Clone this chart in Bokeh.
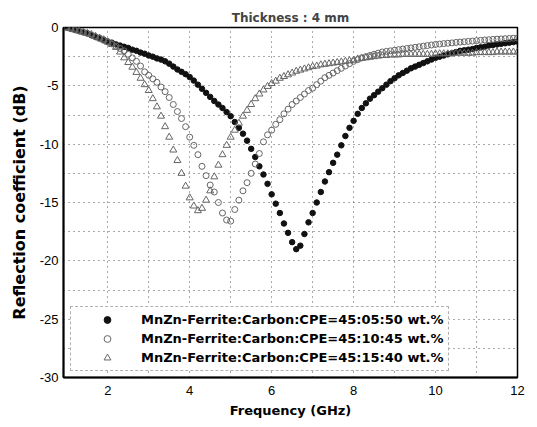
from bokeh.plotting import figure
from bokeh.models import FixedTicker, Legend, LegendItem, Range1d
from bokeh.embed import file_html
from bokeh.resources import INLINE

title_text = "Thickness : 4 mm"
x_label = "Frequency (GHz)"
y_label = "Reflection coefficient (dB)"

x_ticks = [2, 4, 6, 8, 10, 12]
y_ticks = [0, -5, -10, -15, -20, -25, -30]
x_grid = [2, 3, 4, 5, 6, 7, 8, 9, 10, 11]
y_grid = [-2.5, -5, -7.5, -10, -12.5, -15, -17.5, -20, -22.5, -25, -27.5]

labels = [
    "MnZn-Ferrite:Carbon:CPE=45:05:50 wt.%",
    "MnZn-Ferrite:Carbon:CPE=45:10:45 wt.%",
    "MnZn-Ferrite:Carbon:CPE=45:15:40 wt.%",
]

freq = [
    1.0, 1.1, 1.2, 1.3, 1.4, 1.5, 1.6, 1.7, 1.8, 1.9,
    2.0, 2.1, 2.2, 2.3, 2.4, 2.5, 2.6, 2.7, 2.8, 2.9,
    3.0, 3.1, 3.2, 3.3, 3.4, 3.5, 3.6, 3.7, 3.8, 3.9,
    4.0, 4.1, 4.2, 4.3, 4.4, 4.5, 4.6, 4.7, 4.8, 4.9,
    5.0, 5.1, 5.2, 5.3, 5.4, 5.5, 5.6, 5.7, 5.8, 5.9,
    6.0, 6.1, 6.2, 6.3, 6.4, 6.5, 6.6, 6.7, 6.8, 6.9,
    7.0, 7.1, 7.2, 7.3, 7.4, 7.5, 7.6, 7.7, 7.8, 7.9,
    8.0, 8.1, 8.2, 8.3, 8.4, 8.5, 8.6, 8.7, 8.8, 8.9,
    9.0, 9.1, 9.2, 9.3, 9.4, 9.5, 9.6, 9.7, 9.8, 9.9,
    10.0, 10.1, 10.2, 10.3, 10.4, 10.5, 10.6, 10.7, 10.8, 10.9,
    11.0, 11.1, 11.2, 11.3, 11.4, 11.5, 11.6, 11.7, 11.8, 11.9,
    12.0,
]

rl_05 = [
    0.0, -0.1, -0.2, -0.3, -0.4, -0.5, -0.65, -0.8, -0.9, -1.05,
    -1.2, -1.3, -1.45, -1.55, -1.65, -1.75, -1.9, -2.0, -2.15, -2.25,
    -2.4, -2.5, -2.65, -2.75, -2.9, -3.1, -3.35, -3.6, -3.8, -4.0,
    -4.25, -4.55, -4.9, -5.25, -5.6, -5.95, -6.3, -6.6, -6.9, -7.25,
    -7.6, -8.1, -8.6, -9.1, -9.7, -10.4, -11.1, -11.9, -12.6, -13.4,
    -14.3, -15.1, -15.9, -16.8, -17.6, -18.4, -19.0, -18.7, -17.7, -16.7,
    -15.9, -15.0, -14.1, -13.2, -12.4, -11.6, -10.9, -10.1, -9.3, -8.6,
    -8.0, -7.4, -6.9, -6.5, -6.1, -5.8, -5.5, -5.2, -4.9, -4.6,
    -4.35, -4.1, -3.9, -3.7, -3.5, -3.35, -3.2, -3.05, -2.9, -2.75,
    -2.6, -2.5, -2.4, -2.3, -2.2, -2.1, -2.0, -1.95, -1.9, -1.85,
    -1.75, -1.7, -1.65, -1.55, -1.5, -1.45, -1.4, -1.35, -1.3, -1.25,
    -1.2,
]

rl_10 = [
    0.0, -0.1, -0.2, -0.3, -0.4, -0.5, -0.65, -0.8, -0.95, -1.1,
    -1.25, -1.4, -1.6, -1.8, -2.0, -2.3, -2.6, -2.9, -3.3, -3.8,
    -4.1, -4.4, -4.7, -5.1, -5.5, -6.0, -6.6, -7.2, -7.8, -8.5,
    -9.4, -10.1, -10.9, -11.9, -12.7, -13.5, -14.1, -15.0, -15.9, -16.5,
    -16.6, -15.6, -14.8, -14.0, -13.3, -12.5, -11.7, -10.8, -9.8, -9.2,
    -8.8, -8.3, -7.9, -7.4, -7.0, -6.6, -6.3, -6.0, -5.7, -5.4,
    -5.2, -4.9, -4.6, -4.3, -4.1, -3.9, -3.7, -3.5, -3.3, -3.1,
    -2.9, -2.75, -2.6, -2.5, -2.4, -2.3, -2.2, -2.1, -2.05, -2.0,
    -1.95, -1.9, -1.85, -1.8, -1.75, -1.7, -1.65, -1.6, -1.55, -1.5,
    -1.45, -1.42, -1.38, -1.35, -1.32, -1.28, -1.25, -1.22, -1.19, -1.16,
    -1.13, -1.1, -1.07, -1.05, -1.02, -1.0, -0.98, -0.96, -0.94, -0.92,
    -0.9,
]

rl_15 = [
    0.0, -0.1, -0.2, -0.3, -0.4, -0.5, -0.6, -0.75, -0.9, -1.05,
    -1.25, -1.45, -1.7, -2.1, -2.6, -3.0, -3.4, -3.85, -4.35, -4.9,
    -5.4, -6.1, -6.8, -7.6, -8.5, -9.4, -10.5, -11.4, -12.5, -13.6,
    -14.6, -15.3, -15.7, -15.5, -14.8, -14.0, -12.8, -11.8, -10.9, -10.1,
    -9.4, -8.8, -8.2, -7.6, -7.1, -6.6, -6.1, -5.7, -5.35, -5.05,
    -4.8, -4.6, -4.35, -4.2, -4.05, -3.9, -3.75, -3.65, -3.55, -3.45,
    -3.35, -3.3, -3.2, -3.15, -3.1, -3.05, -3.0, -2.95, -2.9, -2.85,
    -2.8, -2.7, -2.65, -2.6, -2.55, -2.5, -2.45, -2.4, -2.4, -2.35,
    -2.35, -2.35, -2.3, -2.3, -2.3, -2.3, -2.3, -2.3, -2.3, -2.3,
    -2.25, -2.25, -2.25, -2.25, -2.25, -2.2, -2.2, -2.2, -2.2, -2.2,
    -2.15, -2.15, -2.15, -2.15, -2.15, -2.1, -2.1, -2.1, -2.1, -2.1,
    -2.1,
]

p = figure(
    width=530, height=420,
    output_backend="svg", toolbar_location=None,
    x_range=Range1d(0.92, 12), y_range=Range1d(-30, 0),
    min_border_left=63, min_border_right=13,
    min_border_top=27, min_border_bottom=42,
)

p.title.text = title_text
p.title.align = "center"
p.title.vertical_align = "middle"
p.title.text_font = "DejaVu Sans"
p.title.text_font_style = "bold"
p.title.text_font_size = "12px"
p.title.standoff = 4
p.title.offset = 0

p.background_fill_color = "white"
p.border_fill_color = "white"
p.outline_line_color = "black"
p.outline_line_width = 1.5

for ax in (p.xaxis[0], p.yaxis[0]):
    ax.axis_line_color = "black"
    ax.axis_line_width = 2
    ax.major_tick_in = 0
    ax.major_tick_out = 0
    ax.minor_tick_in = 0
    ax.minor_tick_out = 0
    ax.major_label_text_font = "Liberation Sans"
    ax.major_label_text_font_size = "13px"
    ax.major_label_text_color = "black"
    ax.axis_label_text_font = "DejaVu Sans"
    ax.axis_label_text_font_style = "bold"
    ax.axis_label_text_color = "black"

p.xaxis.ticker = FixedTicker(ticks=x_ticks)
p.yaxis.ticker = FixedTicker(ticks=y_ticks)
p.yaxis.major_label_overrides = {t: str(t) for t in y_ticks}
p.xaxis.major_label_overrides = {t: str(t) for t in x_ticks}
p.xaxis.axis_label = x_label
p.yaxis.axis_label = y_label
p.xaxis.axis_label_text_font_size = "13px"
p.yaxis.axis_label_text_font_size = "16px"
p.xaxis.major_label_standoff = 8
p.yaxis.major_label_standoff = 5
p.xaxis.axis_label_standoff = 5
p.yaxis.axis_label_standoff = 8

p.xgrid.ticker = FixedTicker(ticks=x_grid)
p.ygrid.ticker = FixedTicker(ticks=y_grid)
for g in (p.xgrid[0], p.ygrid[0]):
    g.grid_line_color = "#555555"
    g.grid_line_dash = "1 4"
    g.grid_line_width = 1

r1 = p.scatter(freq, rl_05, marker="circle", size=5.5,
               fill_color="#111111", line_color="#111111")
r2 = p.scatter(freq, rl_10, marker="circle", size=6,
               fill_color=None, line_color="#666666", line_width=1)
r3 = p.scatter(freq, rl_15, marker="triangle", size=7,
               fill_color=None, line_color="#666666", line_width=1)

legend = Legend(
    items=[LegendItem(label=labels[0], renderers=[r1]),
           LegendItem(label=labels[1], renderers=[r2]),
           LegendItem(label=labels[2], renderers=[r3])],
    location=(7, 6),
    padding=4, spacing=2,
    glyph_width=64, glyph_height=17, label_height=17,
    label_standoff=2,
    label_text_font="DejaVu Sans", label_text_font_style="bold",
    label_text_font_size="13px", label_text_color="black",
    border_line_color="#666666", border_line_dash="1 1", border_line_width=1,
    background_fill_color="white", background_fill_alpha=1.0,
    margin=0,
)
p.add_layout(legend)

open("out.html", "w").write(file_html(p, INLINE))
